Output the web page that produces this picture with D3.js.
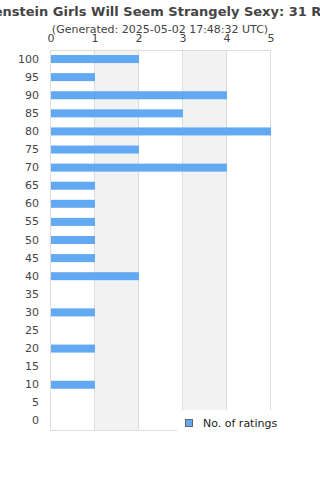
<!DOCTYPE html>
<html><head><meta charset="utf-8">
<script src="https://cdn.jsdelivr.net/npm/d3@7/dist/d3.min.js"></script>
<style>body{margin:0;background:#fff;}svg{display:block;font-family:"DejaVu Sans",sans-serif;}</style>
</head><body><div id="chart"></div>
<script>
const categories = ["100","95","90","85","80","75","70","65","60","55","50","45","40","35","30","25","20","15","10","5","0"];
const ratings = [2,1,4,3,5,2,4,1,1,1,1,1,2,0,1,0,1,0,1,0,0];
const xTicks = [0,1,2,3,4,5];
const titleText = "Frankenstein Girls Will Seem Strangely Sexy: 31 Ratings";
const subtitleText = "(Generated: 2025-05-02 17:48:32 UTC)";
const legendLabel = "No. of ratings";

const W = 320, H = 480;
const m = {left: 50, right: 50, top: 50, bottom: 50};
const svg = d3.select("#chart").append("svg").attr("width", W).attr("height", H);

const x = d3.scaleLinear().domain([0,5]).range([m.left, W - m.right]);
const y = d3.scaleBand().domain(categories).range([m.top, H - m.bottom]);

// alternating bands
const bands = d3.pairs(xTicks).filter((d,i) => i % 2 === 1);
svg.append("g").selectAll("rect").data(bands).join("rect")
  .attr("x", d => x(d[0])).attr("width", d => x(d[1]) - x(d[0]))
  .attr("y", m.top).attr("height", H - m.bottom - m.top)
  .attr("fill", "#f2f2f2");

// grid lines
svg.append("g").selectAll("line").data(xTicks).join("line")
  .attr("x1", d => x(d) + 0.5).attr("x2", d => x(d) + 0.5)
  .attr("y1", m.top).attr("y2", H - m.bottom)
  .attr("stroke", "#dddddd");
svg.append("line").attr("x1", m.left).attr("x2", W - m.right)
  .attr("y1", m.top + 0.5).attr("y2", m.top + 0.5).attr("stroke", "#dddddd");
svg.append("line").attr("x1", m.left).attr("x2", W - m.right)
  .attr("y1", H - m.bottom + 0.5).attr("y2", H - m.bottom + 0.5).attr("stroke", "#dddddd");

// bars
const barH = 8;
svg.append("g").selectAll("rect").data(ratings).join("rect")
  .attr("x", x(0) + 1)
  .attr("y", (d,i) => y(categories[i]) + y.bandwidth()/2 - barH/2)
  .attr("width", d => Math.max(0, x(d) - x(0)))
  .attr("height", barH)
  .attr("fill", "#62a8f2");

// top axis
const xAxis = d3.axisTop(x).tickValues(xTicks).tickFormat(d3.format("d")).tickSize(0).tickPadding(0);
svg.append("g").attr("transform", `translate(0.5,${m.top - 8})`).call(xAxis)
  .call(g => g.select(".domain").remove())
  .call(g => g.selectAll("text").attr("fill", "#444").attr("font-size", 11).attr("font-family", "DejaVu Sans"));

// left axis
const yAxis = d3.axisLeft(y).tickSize(0).tickPadding(0);
svg.append("g").attr("transform", `translate(${m.left - 11},0)`).call(yAxis)
  .call(g => g.select(".domain").remove())
  .call(g => g.selectAll("text").attr("fill", "#444").attr("font-size", 11).attr("font-family", "DejaVu Sans"));

// title
svg.append("text").attr("x", W/2).attr("y", 16).attr("text-anchor", "middle")
  .attr("font-size", 13).attr("font-weight", "bold").attr("fill", "#444").text(titleText);
svg.append("text").attr("x", W/2).attr("y", 33).attr("text-anchor", "middle")
  .attr("font-size", 11).attr("fill", "#444").text(subtitleText);

// legend
const lg = svg.append("g").attr("transform", "translate(177,410)");
lg.append("rect").attr("x", 0).attr("y", 0).attr("width", 143).attr("height", 30).attr("fill", "#fff");
lg.append("rect").attr("x", 8.5).attr("y", 9.5).attr("width", 7).attr("height", 7)
  .attr("fill", "#62a8f2").attr("stroke", "#666");
lg.append("text").attr("x", 26).attr("y", 17).attr("font-size", 11).attr("fill", "#222").text(legendLabel);
</script></body></html>
